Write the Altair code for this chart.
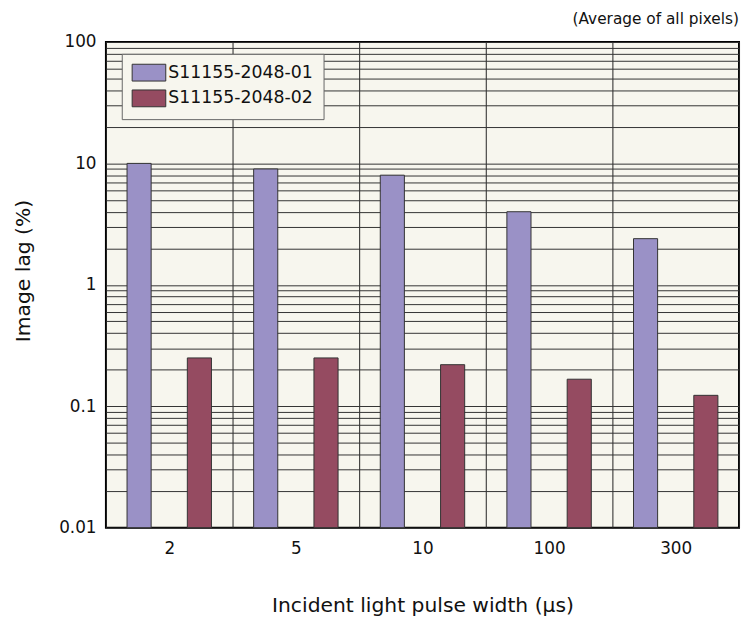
import altair as alt
import pandas as pd

categories = ["2", "5", "10", "100", "300"]
series_names = ["S11155-2048-01", "S11155-2048-02"]
values_01 = [10, 9, 8, 4, 2.4]
values_02 = [0.25, 0.25, 0.22, 0.167, 0.123]

y_ticks_all = [0.01, 0.02, 0.03, 0.04, 0.05, 0.06, 0.07, 0.08, 0.09,
               0.1, 0.2, 0.3, 0.4, 0.5, 0.6, 0.7, 0.8, 0.9,
               1, 2, 3, 4, 5, 6, 7, 8, 9,
               10, 20, 30, 40, 50, 60, 70, 80, 90, 100]

rows = []
for c, v in zip(categories, values_01):
    rows.append({"width": c, "series": series_names[0], "lag": v})
for c, v in zip(categories, values_02):
    rows.append({"width": c, "series": series_names[1], "lag": v})
df = pd.DataFrame(rows)

FONT = "DejaVu Sans"

bars = alt.Chart(df).mark_bar(stroke="#333333", strokeWidth=1).encode(
    x=alt.X("width:N", sort=categories,
            scale=alt.Scale(paddingInner=0, paddingOuter=0),
            axis=alt.Axis(title="Incident light pulse width (µs)", labelAngle=0,
                          tickBand="extent", grid=True, gridColor="#222222",
                          gridOpacity=1, gridWidth=1, ticks=False, domain=False,
                          labelPadding=13, titlePadding=40)),
    xOffset=alt.XOffset("series:N", sort=series_names,
                        scale=alt.Scale(paddingInner=0.6, paddingOuter=0.35)),
    y=alt.Y("lag:Q",
            scale=alt.Scale(type="log", domain=[0.01, 100], nice=False),
            axis=alt.Axis(title="Image lag (%)", values=y_ticks_all, format="~g",
                          labelExpr="(datum.value == 100 || datum.value == 10 || datum.value == 1 || datum.value == 0.1 || datum.value == 0.01) ? datum.label : ''",
                          grid=True, gridColor="#333333", gridOpacity=1, gridWidth=1,
                          ticks=False, domain=False, labelPadding=10,
                          titleX=-73, titleY=231)),
    y2=alt.datum(0.01),
    color=alt.Color("series:N", sort=series_names,
                    scale=alt.Scale(domain=series_names, range=["#9A91C6", "#954B61"]),
                    legend=alt.Legend(title=None, orient="none", legendX=16, legendY=12,
                                      symbolType="M-1,-1L3,-1L3,1L-1,1Z",
                                      symbolSize=289, symbolStrokeColor="#333333",
                                      symbolStrokeWidth=1, symbolOpacity=1,
                                      labelFontSize=17.5, labelFont=FONT, labelColor="#111111",
                                      fillColor="#F7F6EE", strokeColor="#666666",
                                      padding=10, rowPadding=4, labelOffset=19)),
).properties(
    width=640, height=491,
    title=alt.TitleParams("(Average of all pixels)", anchor="end", fontSize=15.5,
                          font=FONT, fontWeight="normal", color="#111111", offset=6),
    autosize="none",
    padding={"left": 99, "top": 31, "right": 2, "bottom": 92},
).configure_view(
    fill="#F7F6EE", stroke="#000000", strokeWidth=2
).configure_axis(
    labelFont=FONT, labelFontSize=17, labelColor="#111111",
    titleFont=FONT, titleFontSize=20.5, titleFontWeight="normal", titleColor="#111111"
)

chart = bars
chart.save("out.html", embed_options={"renderer": "svg", "actions": False})
